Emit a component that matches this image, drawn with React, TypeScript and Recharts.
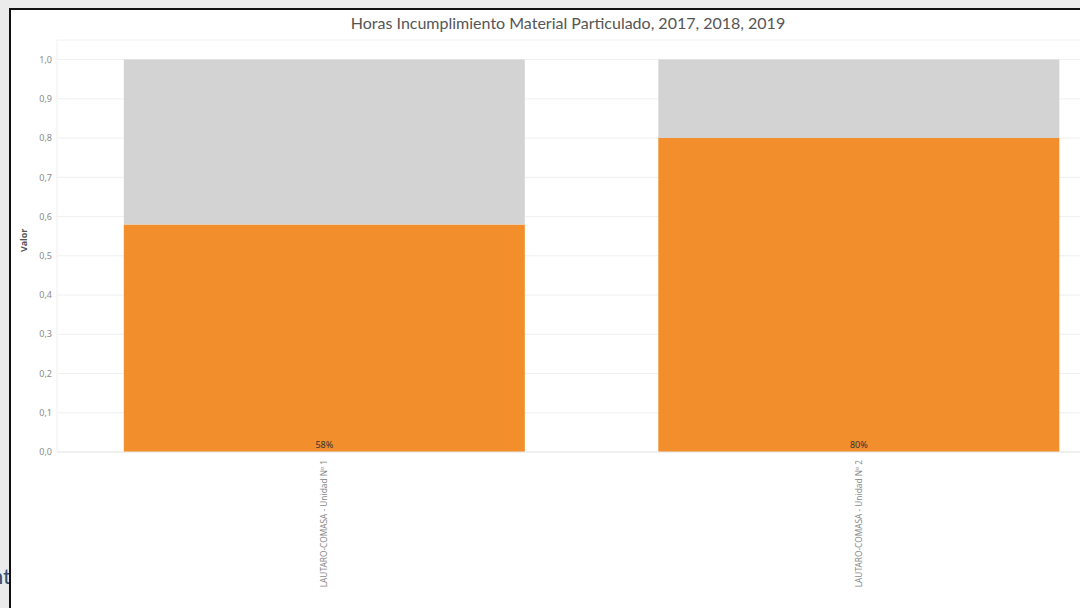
import React from 'react';
import { BarChart, Bar, XAxis, YAxis, CartesianGrid, LabelList } from 'recharts';

const categories = ['LAUTARO-COMASA - Unidad Nº 1', 'LAUTARO-COMASA - Unidad Nº 2'];
const cumple = [0.58, 0.8];
const resto = [0.42, 0.2];
const yTicks = [0, 0.1, 0.2, 0.3, 0.4, 0.5, 0.6, 0.7, 0.8, 0.9, 1.0];

const data = categories.map((name, i) => ({ name, cumple: cumple[i], resto: resto[i] }));

const fmtTick = (v: number) => v.toFixed(1).replace('.', ',');
const fmtPct = (v: number) => `${Math.round(v * 100)}%`;

const XTick = (props: any) => {
  const { x, y, payload } = props;
  return (
    <text
      x={x}
      y={y}
      transform={`rotate(-90, ${x}, ${y})`}
      textAnchor="end"
      dy={3}
      fontSize={8.3}
      fill="#8a8a8a"
      fontFamily="Noto Sans, sans-serif"
    >
      {payload.value}
    </text>
  );
};

const PctLabel = (props: any) => {
  const { x, y, width, height, value } = props;
  return (
    <text
      x={x + width / 2}
      y={y + height - 4}
      textAnchor="middle"
      fontSize={9}
      fill="#333"
      fontFamily="Noto Sans, sans-serif"
    >
      {fmtPct(value)}
    </text>
  );
};

export default function App() {
  return (
    <div
      style={{
        position: 'fixed',
        left: 0,
        top: 0,
        width: 1080,
        height: 608,
        overflow: 'hidden',
        background: '#ebebeb',
      }}
    >
      <div
        style={{
          position: 'absolute',
          left: -9,
          top: 562,
          fontSize: 22,
          color: '#34506e',
          fontFamily: 'Lato, sans-serif',
        }}
      >
        nt
      </div>
      <div
        style={{
          position: 'absolute',
          left: 9,
          top: 8,
          width: 1100,
          height: 620,
          background: '#fff',
          borderLeft: '2px solid #111',
          borderTop: '2px solid #111',
        }}
      />
      <div
        style={{
          position: 'absolute',
          left: 0,
          top: 13,
          width: 1136,
          textAlign: 'center',
          fontSize: 16,
          color: '#555',
          fontFamily: 'Lato, sans-serif',
        }}
      >
        Horas Incumplimiento Material Particulado, 2017, 2018, 2019
      </div>
      <div style={{ position: 'absolute', left: 0, top: 0 }}>
        <BarChart
          width={1130}
          height={608}
          data={data}
          margin={{ top: 40, right: 4, left: 10, bottom: 0 }}
          barCategoryGap="12.5%"
        >
          <CartesianGrid vertical={false} stroke="#f0f0f0" />
          <XAxis
            dataKey="name"
            interval={0}
            height={156}
            tickLine={false}
            tickSize={0}
            tickMargin={8}
            axisLine={{ stroke: '#e8e8e8' }}
            tick={<XTick />}
          />
          <YAxis
            type="number"
            domain={[0, 1.05]}
            ticks={yTicks}
            width={47}
            tickLine={false}
            tickSize={0}
            tickMargin={5}
            axisLine={{ stroke: '#f0f0f0' }}
            tickFormatter={fmtTick}
            tick={{ fontSize: 9, fill: '#8a8a8a', fontFamily: 'Noto Sans, sans-serif' }}
            label={{
              value: 'Valor',
              angle: -90,
              position: 'insideLeft',
              offset: 14,
              dy: 6,
              style: { fontSize: 9, fill: '#555', fontWeight: 'bold', fontFamily: 'Noto Sans, sans-serif' },
            }}
          />
          <Bar dataKey="cumple" stackId="a" fill="#f28e2b" isAnimationActive={false}>
            <LabelList dataKey="cumple" content={<PctLabel />} />
          </Bar>
          <Bar dataKey="resto" stackId="a" fill="#d3d3d3" isAnimationActive={false} />
        </BarChart>
      </div>
    </div>
  );
}
